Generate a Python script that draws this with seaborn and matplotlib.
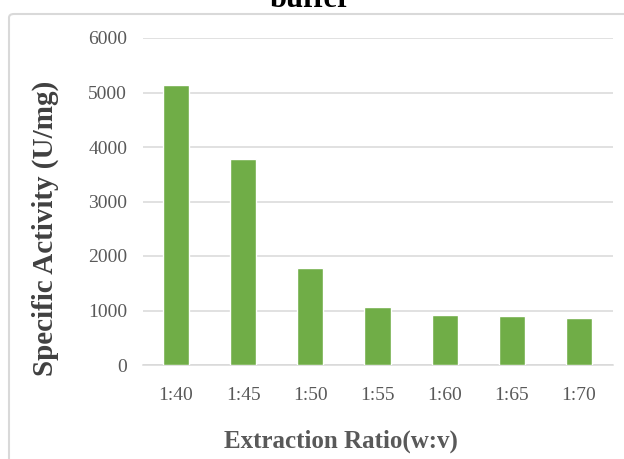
import matplotlib
matplotlib.use("Agg")
import matplotlib.pyplot as plt
from matplotlib.patches import FancyBboxPatch
import seaborn as sns
import pandas as pd

# data
ratios = ["1:40", "1:45", "1:50", "1:55", "1:60", "1:65", "1:70"]
activity = [5130, 3780, 1775, 1070, 920, 895, 860]
y_ticks = [0, 1000, 2000, 3000, 4000, 5000, 6000]

df = pd.DataFrame({"ratio": ratios, "activity": activity})

sns.set_style("white")
plt.rcParams["font.family"] = ["Liberation Serif", "DejaVu Serif"]

W, H = 624, 459
fig = plt.figure(figsize=(W / 100, H / 100), dpi=100)

# chart frame (rounded light grey box, like the spreadsheet export)
frame = FancyBboxPatch((9 / W, -0.05), 1.2, (H - 14) / H + 0.05,
                       boxstyle="round,pad=0,rounding_size=0.008",
                       transform=fig.transFigure, facecolor="none",
                       edgecolor="#d9d9d9", linewidth=1.5, zorder=-1)
fig.patches.append(frame)

ax = fig.add_axes([142.5 / W, 1 - 365 / H, 470 / W, 327 / H])
ax.patch.set_alpha(0)

sns.barplot(data=df, x="ratio", y="activity", color="#70AD47",
            width=0.39, saturation=1, ax=ax, zorder=3)

ax.set_ylim(0, 6000)
ax.set_yticks(y_ticks)
ax.set_xlim(-0.5, len(ratios) - 0.5)
ax.yaxis.grid(True, color="#d9d9d9", linewidth=1.1, zorder=0)
ax.set_axisbelow(True)
for s in ["top", "right", "left"]:
    ax.spines[s].set_visible(False)
ax.spines["bottom"].set_color("#d9d9d9")
ax.spines["bottom"].set_linewidth(1.1)

ax.tick_params(axis="both", length=0, labelsize=14, labelcolor="#595959")
ax.tick_params(axis="x", pad=16)
ax.tick_params(axis="y", pad=11)
ax.set_xlabel("")
ax.set_ylabel("")

fig.text(45 / W, 1 - 228 / H, "Specific Activity (U/mg)", rotation=90,
         ha="center", va="center", fontsize=21, fontweight="bold",
         color="#404040")
fig.text(341 / W, 1 - 441 / H, "Extraction Ratio(w:v)", ha="center",
         va="center", fontsize=18, fontweight="bold", color="#595959")
# title only partly visible at the top edge
fig.text(310 / W, 1 - 7 / H, "buffer", ha="center", va="baseline",
         fontsize=22, fontweight="bold", color="black")

fig.savefig("out.png", dpi=100)
